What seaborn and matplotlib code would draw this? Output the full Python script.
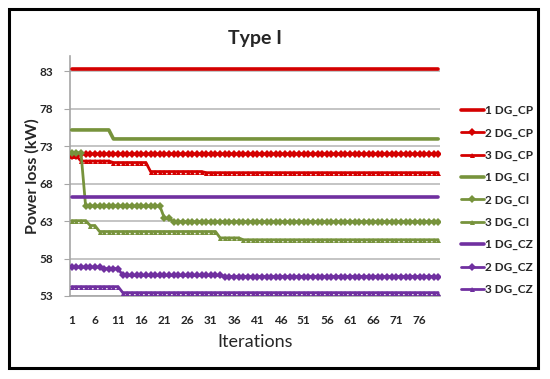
import matplotlib
matplotlib.use("Agg")
import matplotlib.pyplot as plt
from matplotlib.patches import Rectangle
import seaborn as sns
import pandas as pd

# iterations 1..80
iterations = list(range(1, 81))

# power loss (kW), step by step
dg1_cp = [83.25] * 80
dg2_cp = [71.7] * 2 + [71.95] * 78
dg3_cp = [71.7] * 2 + [71.0] * 7 + [70.8] * 8 + [69.6] * 12 + [69.45] * 51
dg1_ci = [75.15] * 9 + [73.95] * 71
dg2_ci = [72.1] * 3 + [65.0] * 17 + [63.35] * 2 + [62.9] * 58
dg3_ci = [63.05] * 4 + [62.4] * 2 + [61.6] * 26 + [60.75] * 5 + [60.5] * 43
dg1_cz = [66.2] * 80
dg2_cz = [56.85] * 7 + [56.65] * 4 + [55.75] * 22 + [55.6] * 47
dg3_cz = [54.25] * 11 + [53.45] * 69

labels = ["1 DG_CP", "2 DG_CP", "3 DG_CP",
          "1 DG_CI", "2 DG_CI", "3 DG_CI",
          "1 DG_CZ", "2 DG_CZ", "3 DG_CZ"]
series = [dg1_cp, dg2_cp, dg3_cp, dg1_ci, dg2_ci, dg3_ci, dg1_cz, dg2_cz, dg3_cz]
x_ticks = list(range(1, 80, 5))
y_ticks = [53, 58, 63, 68, 73, 78, 83]

red = "#D40000"
green = "#77933C"
purple = "#7030A0"
colors = [red] * 3 + [green] * 3 + [purple] * 3
markers = [None, "D", "^"] * 3

sns.set_style("white")
plt.rcParams["font.family"] = ["Lato", "DejaVu Sans"]

fig = plt.figure(figsize=(5.5, 3.79), dpi=100)
ax = fig.add_axes([0.127, 0.219, 0.673, 0.633])

for lab, vals, col, mk in zip(labels, series, colors, markers):
    df = pd.DataFrame({"Iterations": iterations, "loss": vals})
    if mk is None:
        sns.lineplot(data=df, x="Iterations", y="loss", ax=ax, color=col,
                     linewidth=2.6, label=lab, zorder=3)
    else:
        sns.lineplot(data=df, x="Iterations", y="loss", ax=ax, color=col,
                     linewidth=2.0, marker=mk, markersize=3.6,
                     markeredgewidth=0, label=lab, zorder=3)

ax.set_xlim(0.6, 80.4)
ax.set_ylim(53, 85)
ax.set_yticks(y_ticks)
ax.set_xticks(x_ticks)
ax.set_xticklabels([str(t) for t in x_ticks], fontsize=8.5, fontweight="bold")
ax.set_yticklabels([str(t) for t in y_ticks], fontsize=8.5, fontweight="bold")
ax.grid(axis="y", color="#BFBFBF", linewidth=1.3)
ax.grid(axis="x", visible=False)
for side in ["top", "right"]:
    ax.spines[side].set_visible(False)
for side in ["left", "bottom"]:
    ax.spines[side].set_color("#A6A6A6")
    ax.spines[side].set_linewidth(1.2)
ax.tick_params(axis="y", which="both", left=True, length=4, color="#A6A6A6", pad=8)
ax.tick_params(axis="x", bottom=False, pad=10)

ax.set_xlabel("Iterations", fontsize=13, labelpad=6)
ax.set_ylabel("Power loss (kW)", fontsize=11.5, fontweight="bold", labelpad=0)
ax.set_title("Type I", fontsize=14, fontweight="bold", pad=9, x=0.5)

ax.get_legend().remove()
handles, hlabels = ax.get_legend_handles_labels()
leg = fig.legend(handles, hlabels, loc="upper left", bbox_to_anchor=(0.83, 0.735),
                 frameon=False, fontsize=8.5, handlelength=1.9, handletextpad=0.15,
                 labelspacing=0.95, borderaxespad=0)
for t in leg.get_texts():
    t.set_fontweight("bold")

fig.patches.append(Rectangle((0.016, 0.029), 0.963, 0.947, transform=fig.transFigure,
                             fill=False, edgecolor="black", linewidth=2.2))

fig.savefig("out.png", dpi=100)
